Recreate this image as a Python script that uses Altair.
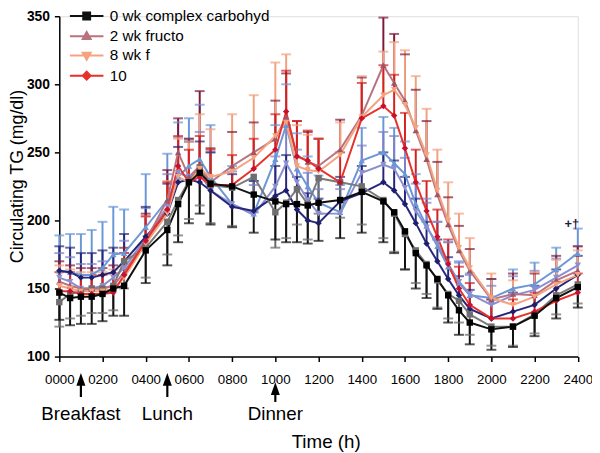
import altair as alt
import pandas as pd

FONT = "Liberation Sans"

hours = [0, 0.5, 1, 1.5, 2, 2.5, 3, 4, 5, 5.5, 6, 6.5, 7, 8, 9, 10, 10.5, 11, 11.5, 12,
         13, 14, 15, 15.5, 16, 16.5, 17, 17.5, 18, 18.5, 19, 20, 21, 22, 23, 24]
x_tick_values = [0, 2, 4, 6, 8, 10, 12, 14, 16, 18, 20, 22, 24]
x_tick_labels = ["0000", "0200", "0400", "0600", "0800", "1000", "1200",
                 "1400", "1600", "1800", "2000", "2200", "2400"]
y_tick_values = [100, 150, 200, 250, 300, 350]

series = ["0 wk complex carbohydrate", "2 wk fructose", "8 wk fructose", "10 wk fructose",
          "0 wk complex carbohydrate (glucose group)", "2 wk glucose", "8 wk glucose", "10 wk glucose"]
legend_series = series[:4]
legend_visible_text = ["0 wk complex carbohyd", "2 wk fructo", "8 wk f", "10"]

tg_black = [147, 143, 144, 144, 146, 150, 152, 178, 193, 212, 228, 235, 227, 225, 219, 214, 212, 212,
            211, 213, 215, 221, 214, 206, 192, 176, 167, 157, 145, 134, 125, 120, 122, 130, 143, 151]
tg_mauve = [155, 152, 150, 150, 150, 152, 162, 185, 215, 250, 232, 240, 228, 240, 250, 260, 276, 248,
            243, 240, 252, 277, 314, 301, 288, 266, 245, 219, 197, 178, 163, 142, 146, 145, 156, 163]
tg_salmon = [152, 150, 148, 148, 148, 150, 158, 183, 205, 232, 228, 238, 232, 236, 246, 262, 272, 240,
             237, 236, 248, 276, 292, 296, 285, 268, 248, 222, 200, 180, 165, 143, 138, 144, 153, 160]
tg_red = [148, 148, 146, 146, 146, 147, 160, 185, 208, 240, 228, 232, 226, 226, 238, 252, 280, 247,
          244, 238, 228, 275, 284, 277, 253, 228, 207, 188, 168, 150, 138, 128, 128, 133, 141, 147]
tg_gray = [140, 146, 148, 150, 150, 152, 170, 180, 199, 215, 229, 239, 226, 224, 232, 206, 213, 223,
           212, 231, 228, 225, 215, 205, 190, 178, 168, 156, 146, 141, 131, 122, 122, 131, 145, 153]
tg_lightblue = [163, 162, 160, 160, 165, 175, 176, 195, 215, 232, 240, 245, 232, 212, 205, 245, 270, 238,
                225, 213, 206, 244, 250, 242, 234, 212, 196, 181, 166, 154, 145, 143, 150, 153, 164, 176]
tg_periwinkle = [158, 155, 150, 150, 152, 158, 165, 187, 210, 235, 232, 235, 222, 212, 204, 225, 242, 228,
                 215, 205, 205, 235, 241, 238, 224, 207, 195, 183, 168, 155, 146, 138, 145, 149, 158, 167]
tg_navy = [163, 162, 158, 158, 160, 162, 170, 188, 205, 228, 230, 228, 222, 210, 207, 218, 222, 208,
           200, 198, 214, 220, 228, 222, 212, 198, 183, 170, 157, 145, 135, 128, 133, 138, 150, 160]

se_black = [20, 20, 20, 20, 20, 20, 22, 24, 26, 28, 30, 30, 30, 30, 28, 28, 28, 28,
            28, 28, 28, 30, 30, 30, 28, 26, 24, 22, 20, 18, 16, 15, 15, 15, 15, 15]
se_mauve = [15, 15, 15, 15, 15, 15, 18, 20, 22, 25, 28, 55, 25, 25, 22, 28, 32, 25,
            22, 20, 22, 28, 35, 36, 34, 30, 28, 24, 20, 18, 16, 15, 15, 16, 18, 18]
se_salmon = [15, 14, 14, 14, 14, 14, 18, 20, 24, 28, 30, 40, 35, 42, 46, 54, 50, 30,
             26, 24, 24, 30, 32, 35, 40, 38, 34, 30, 28, 25, 22, 18, 18, 18, 18, 18]
se_red = [14, 14, 14, 14, 14, 14, 16, 18, 20, 22, 24, 30, 26, 22, 22, 26, 30, 26,
          22, 22, 22, 26, 30, 30, 26, 24, 22, 20, 18, 16, 16, 14, 14, 14, 14, 14]
se_gray = [18, 18, 18, 18, 18, 18, 20, 22, 24, 26, 28, 28, 28, 28, 26, 26, 26, 26,
           26, 26, 26, 28, 28, 28, 26, 24, 22, 20, 18, 16, 15, 14, 14, 14, 14, 14]
se_lightblue = [26, 28, 30, 33, 34, 35, 32, 39, 34, 40, 35, 40, 38, 28, 24, 25, 30, 26,
                22, 20, 20, 24, 26, 26, 24, 22, 20, 18, 18, 16, 16, 14, 14, 16, 16, 18]
se_periwinkle = [18, 18, 18, 18, 18, 18, 20, 22, 24, 26, 28, 30, 28, 24, 22, 22, 28, 24,
                 20, 18, 18, 20, 24, 24, 22, 20, 18, 16, 16, 14, 14, 14, 14, 14, 14, 14]
se_navy = [18, 18, 18, 18, 18, 18, 20, 22, 22, 26, 28, 30, 28, 24, 22, 22, 26, 24,
           20, 18, 18, 20, 22, 22, 20, 18, 16, 16, 16, 14, 14, 14, 14, 14, 14, 14]

values = dict(zip(series, [tg_black, tg_mauve, tg_salmon, tg_red,
                           tg_gray, tg_lightblue, tg_periwinkle, tg_navy]))
errors = dict(zip(series, [se_black, se_mauve, se_salmon, se_red,
                           se_gray, se_lightblue, se_periwinkle, se_navy]))
err_side = dict(zip(series, [-1, 1, 1, 1, -1, 1, 1, 1]))

line_colors = ["#111111", "#b8737f", "#f5a27f", "#e8312b", "#7a7a7a", "#6b97d6", "#8a8fd2", "#26277a"]
err_colors = ["#111111", "#7d1a3a", "#f3a07e", "#d42020", "#6a6a6a", "#6b97d6", "#7c80c8", "#26277a"]
marker_colors = ["#000000", "#a05565", "#f5a27f", "#c8102e", "#6e6e6e", "#6b97d6", "#8a8fd2", "#1e1e6e"]
marker_shapes = ["square", "triangle-up", "triangle-down", "diamond",
                 "square", "triangle-up", "triangle-down", "diamond"]
legend_paths = [
    "M-3.4,0L3.4,0M-0.7,-0.7L0.7,-0.7L0.7,0.7L-0.7,0.7Z",
    "M-3.4,0L3.4,0M0,-0.85L0.8,0.55L-0.8,0.55Z",
    "M-3.4,0L3.4,0M0,0.85L0.8,-0.55L-0.8,-0.55Z",
    "M-3.4,0L3.4,0M0,-0.8L0.8,0L0,0.8L-0.8,0Z",
]
draw_order = [series[i] for i in [5, 6, 7, 4, 1, 2, 3, 0]]

rows = []
for s in draw_order:
    for h, v, e in zip(hours, values[s], errors[s]):
        end = v + err_side[s] * e
        rows.append({"series": s, "hour": h, "value": v,
                     "lo": min(v, end), "hi": max(v, end), "cap": end})
df = pd.DataFrame(rows)

meal_names = ["Breakfast", "Lunch", "Dinner"]
meal_hours = [1, 5, 10]
meals = pd.DataFrame({"meal": meal_names, "hour": meal_hours})
marks_note = pd.DataFrame({"hour": [24], "value": [197], "note": ["+\u2020"]})

label_js = "[" + ",".join("'%s'" % t for t in x_tick_labels) + "][round(datum.value/2)]"
legend_expr = "'" + legend_visible_text[-1] + "'"
for full, vis in reversed(list(zip(legend_series[:-1], legend_visible_text[:-1]))):
    legend_expr = "datum.label == '%s' ? '%s' : %s" % (full, vis, legend_expr)

x_enc = alt.X("hour:Q", scale=alt.Scale(domain=[0, 24], nice=False),
              axis=alt.Axis(values=x_tick_values, labelExpr=label_js, title="Time (h)",
                            grid=False, tickSize=5, labelPadding=11, labelFont=FONT,
                            labelFontSize=13.5, labelColor="black", labelFlush=False,
                            labelOverlap=False, titleFont=FONT, titleFontSize=19,
                            titleFontWeight="normal", titleColor="black", titleX=270, titleY=86,
                            titleBaseline="middle", titleAlign="center", domainColor="black",
                            domainWidth=1.5, tickColor="black", tickWidth=1.5))
y_scale = alt.Scale(domain=[100, 350], nice=False)
y_axis = alt.Axis(values=y_tick_values, title="Circulating TG (mg/dl)", grid=False, tickSize=5,
                  labelPadding=5, labelFont=FONT, labelFontSize=14, labelFontWeight="bold",
                  labelColor="black", titleFont=FONT, titleFontSize=18, titleFontWeight="normal",
                  titleColor="black", titleX=-42, titleY=162, titleAngle=270,
                  titleBaseline="middle", titleAlign="center", domainColor="black",
                  domainWidth=1.5, tickColor="black", tickWidth=1.5, labelFlush=False)

base = alt.Chart(df)

err_rules = base.mark_rule(strokeWidth=2).encode(
    x=x_enc,
    y=alt.Y("lo:Q", scale=y_scale, axis=y_axis),
    y2="hi:Q",
    color=alt.Color("series:N", scale=alt.Scale(domain=series, range=err_colors), legend=None),
)
err_caps = base.mark_tick(orient="horizontal", thickness=2, size=10).encode(
    x=x_enc,
    y=alt.Y("cap:Q", scale=y_scale, axis=y_axis),
    color=alt.Color("series:N", scale=alt.Scale(domain=series, range=err_colors), legend=None),
)
lines = base.mark_line(strokeWidth=2).encode(
    x=x_enc,
    y=alt.Y("value:Q", scale=y_scale, axis=y_axis),
    color=alt.Color("series:N", scale=alt.Scale(domain=series, range=line_colors), legend=None),
)
points = base.mark_point(filled=True, size=42, opacity=1).encode(
    x=x_enc,
    y=alt.Y("value:Q", scale=y_scale, axis=y_axis),
    color=alt.Color("series:N", scale=alt.Scale(domain=series, range=marker_colors), legend=None),
    shape=alt.Shape("series:N", scale=alt.Scale(domain=series, range=marker_shapes), legend=None),
)

leg_props = dict(orient="none", legendX=20, legendY=-8, title=None, labelFont=FONT,
                 labelFontSize=15.5, labelColor="black", labelOffset=15.7, symbolSize=100,
                 symbolStrokeWidth=2, rowPadding=2.5, padding=0, labelExpr=legend_expr,
                 symbolOpacity=1, labelLimit=300)
legend_layer = alt.Chart(df).transform_filter(
    alt.FieldOneOfPredicate(field="series", oneOf=legend_series)
).transform_filter("datum.hour == 0").mark_point(filled=True, strokeWidth=2, size=100, clip=True).encode(
    x=x_enc,
    y=alt.value(-500),
    shape=alt.Shape("series:N", scale=alt.Scale(domain=legend_series, range=legend_paths),
                    legend=alt.Legend(**leg_props)),
    fill=alt.Fill("series:N", scale=alt.Scale(domain=legend_series, range=line_colors[:4]),
                  legend=alt.Legend(**leg_props)),
    stroke=alt.Stroke("series:N", scale=alt.Scale(domain=legend_series, range=line_colors[:4]),
                      legend=alt.Legend(**leg_props)),
)

mbase = alt.Chart(meals)
early = alt.datum.hour < 8
late = alt.datum.hour >= 8
arrow_path = "M0,-1L0.7,1L-0.7,1Z"
shaft_early = mbase.transform_filter(early).mark_rule(strokeWidth=2.2, color="black").encode(
    x=x_enc, y=alt.value(373), y2=alt.value(386))
head_early = mbase.transform_filter(early).mark_point(
    shape=arrow_path, size=169, filled=True, color="black", opacity=1).encode(
    x=x_enc, y=alt.value(368.2))
shaft_late = mbase.transform_filter(late).mark_rule(strokeWidth=2.2, color="black").encode(
    x=x_enc, y=alt.value(382), y2=alt.value(391))
head_late = mbase.transform_filter(late).mark_point(
    shape=arrow_path, size=169, filled=True, color="black", opacity=1).encode(
    x=x_enc, y=alt.value(377.5))
meal_text = mbase.mark_text(font=FONT, fontSize=19, color="black", baseline="middle",
                            align="center").encode(x=x_enc, y=alt.value(403), text="meal:N")

note = alt.Chart(marks_note).mark_text(font=FONT, fontSize=13, fontWeight="bold", color="#1a1a40",
                                       dx=-6, baseline="middle").encode(
    x=x_enc, y=alt.Y("value:Q", scale=y_scale, axis=y_axis), text="note:N")

chart = alt.layer(
    err_rules, err_caps, lines, points, note,
    shaft_early, head_early, shaft_late, head_late, meal_text, legend_layer
).resolve_scale(
    color="independent", shape="independent", fill="independent", stroke="independent"
).properties(
    width=525.6, height=345,
    autosize=alt.AutoSizeParams(type="none"),
    padding={"left": 52, "top": 5.3, "right": 14.4, "bottom": 94.7},
).configure_view(stroke=None).configure(background="white")

chart.save("out.html", embed_options={"renderer": "svg", "actions": False})
